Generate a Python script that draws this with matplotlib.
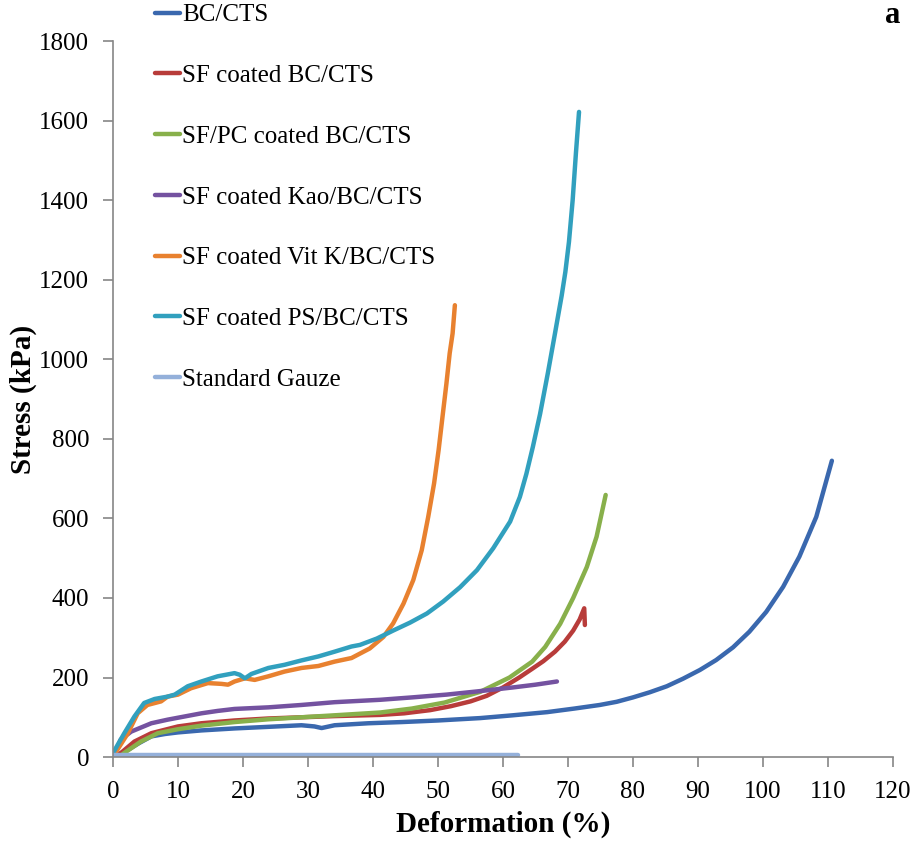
import matplotlib
matplotlib.use("Agg")
import matplotlib.pyplot as plt

labels = ["BC/CTS", "SF coated BC/CTS", "SF/PC coated BC/CTS", "SF coated Kao/BC/CTS",
          "SF coated Vit K/BC/CTS", "SF coated PS/BC/CTS", "Standard Gauze"]

bc_x = [0, 1, 2.3, 4, 5.9, 8, 10, 13.6, 18.7, 23.9, 29, 31, 32.1, 34.1, 39.3, 44.4, 50, 56.5,
        61.5, 66.8, 71, 74.9, 77.5, 80, 82.6, 85.2, 87.7, 90.3, 92.8, 95.4, 97.9, 100.5, 103.1,
        105.6, 108.2, 110.6]
bc_y = [0, 8, 18, 35, 52, 58, 62, 67, 72, 76, 80, 77, 73, 80, 85, 88, 92, 98,
        105, 113, 122, 131, 139, 150, 163, 178, 197, 219, 244, 276, 315, 365, 428,
        504, 604, 745]

sf_x = [0.5, 1.2, 3.3, 5.9, 10, 13.6, 18.7, 23.9, 29, 34.1, 41.1, 44.8, 48.8, 52, 55, 57.5,
        60, 62.5, 64.5, 66.2, 68, 69.5, 70.8, 71.8, 72.5, 72.6]
sf_y = [0, 10, 39, 60, 77, 85, 92, 97, 100, 103, 106, 110, 118, 128, 140, 154,
        175, 200, 222, 241, 265, 290, 318, 346, 374, 332]

pc_x = [1, 1.7, 4.3, 6.9, 10, 13.6, 18.7, 23.9, 29, 34.1, 41.1, 46, 51, 56.5, 61, 64.5,
        66.5, 68.8, 70.8, 72.9, 74.4, 75.8]
pc_y = [0, 10, 39, 60, 70, 79, 88, 95, 100, 105, 112, 122, 137, 164, 200, 240,
        277, 335, 400, 478, 554, 659]

kao_x = [0, 1.2, 2.8, 5.9, 8.4, 11, 13.6, 16.1, 18.7, 21.3, 23.9, 29, 34.1, 41.1, 46, 51.3,
         56, 61.5, 65, 68.3]
kao_y = [0, 44, 64, 85, 94, 102, 110, 116, 121, 123, 125, 131, 138, 144, 150, 157,
         165, 175, 182, 190]

vitk_x = [0, 0.2, 2.3, 3.8, 5.3, 7.4, 8.4, 10, 12, 14.6, 16.7, 17.7, 18.7, 20.3, 21.8, 23.9,
          26.4, 29, 31.6, 34.1, 36.7, 39.5, 41.6, 43.1, 44.7, 46.2, 47.5, 48.5, 49.4, 50.1,
          50.7, 51.3, 51.8, 52.25, 52.6]
vitk_y = [0, 6, 60, 110, 131, 140, 152, 157, 173, 186, 184, 182, 190, 198, 194, 203,
          215, 224, 229, 240, 249, 273, 302, 336, 386, 445, 520, 604, 688, 772,
          856, 939, 1015, 1065, 1136]

ps_x = [0, 1.75, 3.3, 4.8, 6.4, 8.4, 9.5, 11.5, 13.6, 16.1, 18.7, 19.5, 20.3, 21.3, 23.9, 26.4,
        29, 31.6, 34.1, 36.7, 38, 40.6, 43.1, 45.7, 48.3, 50.8, 53.4, 56, 58.5, 61.1, 62.6,
        63.6, 64.6, 65.7, 66.9, 68.0, 69.03, 69.6, 70.15, 70.72, 71.23, 71.7]
ps_y = [10, 60, 102, 136, 146, 152, 157, 178, 190, 203, 211, 207, 198, 209, 224, 232,
        243, 253, 265, 278, 282, 298, 318, 338, 361, 391, 427, 470, 525, 592, 654,
        712, 780, 862, 965, 1065, 1160, 1220, 1295, 1400, 1520, 1622]

gauze_x = [0, 62.3]
gauze_y = [4, 4]

colors = ["#3A68AE", "#B83C3A", "#88B04B", "#7452A0", "#E8812F", "#31A0BE", "#94B0DA"]

xticks = list(range(0, 121, 10))
yticks = list(range(0, 1801, 200))

plt.rcParams['font.family'] = ['Liberation Serif', 'DejaVu Serif']

fig = plt.figure(figsize=(9.14, 8.44), dpi=100)
ax = fig.add_axes([0.1236, 0.103, 0.8534, 0.8483])

series = [(bc_x, bc_y), (sf_x, sf_y), (pc_x, pc_y), (kao_x, kao_y),
          (vitk_x, vitk_y), (ps_x, ps_y), (gauze_x, gauze_y)]
for (xs, ys), c, lab in zip(series, colors, labels):
    ax.plot(xs, ys, color=c, lw=3.2, label=lab, solid_capstyle='round', solid_joinstyle='round')

ax.set_xlim(0, 120)
ax.set_ylim(0, 1800)
ax.set_xticks(xticks)
ax.set_yticks(yticks)
for s in ['top', 'right']:
    ax.spines[s].set_visible(False)
for s in ['left', 'bottom']:
    ax.spines[s].set_color('#868686')
    ax.spines[s].set_linewidth(1.2)
ax.tick_params(axis='both', direction='out', length=7, width=1.2, color='#868686',
               labelsize=18, pad=10)
ax.set_xlabel("Deformation (%)", fontsize=21, fontweight='bold', labelpad=6)
ax.set_ylabel("Stress (kPa)", fontsize=21, fontweight='bold', labelpad=2)

leg = ax.legend(loc='upper left', bbox_to_anchor=(0.041, 1.066), frameon=False, fontsize=18,
                handlelength=1.0, handletextpad=0.1, labelspacing=1.53, borderaxespad=0)

fig.text(0.968, 0.999, "a", fontsize=22, fontweight='bold', ha='left', va='top')

fig.savefig("out.png", dpi=100)
